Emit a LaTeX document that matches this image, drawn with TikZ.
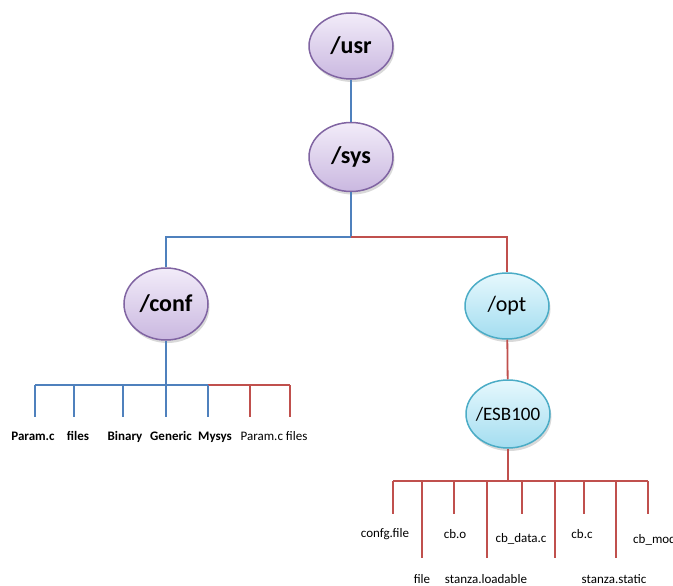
\documentclass[tikz,border=0pt]{standalone}
\usepackage{fontspec}
\setmainfont{Carlito}
\usetikzlibrary{shapes.geometric,shadows}

\definecolor{linkblue}{HTML}{4F81BD}
\definecolor{linkred}{HTML}{C0504D}
\definecolor{purpleedge}{HTML}{8064A2}
\definecolor{purpletop}{HTML}{F2ECF9}
\definecolor{purplebot}{HTML}{CAB8E0}
\definecolor{aquaedge}{HTML}{4BACC6}
\definecolor{aquatop}{HTML}{E6F8FD}
\definecolor{aquabot}{HTML}{A3DDF0}

\begin{document}
\begin{tikzpicture}[x=1pt,y=-1pt,
  dirnode/.style={ellipse, line width=1.5pt, minimum width=84pt, minimum height=66pt,
    inner sep=-6pt, text=black,
    drop shadow={opacity=0.3, shadow xshift=1.5pt, shadow yshift=-3pt}},
  purpledir/.style={dirnode, draw=purpleedge, top color=purpletop, bottom color=purplebot,
    font=\bfseries\fontsize{24}{28}\selectfont},
  aquadir/.style={dirnode, draw=aquaedge, top color=aquatop, bottom color=aquabot},
  bluelink/.style={draw=linkblue, line width=1.8pt},
  redlink/.style={draw=linkred, line width=1.8pt},
  leafbold/.style={anchor=base, inner sep=0pt, font=\bfseries\fontsize{13}{15}\selectfont},
  leaf/.style={anchor=base, inner sep=0pt, font=\fontsize{13}{15}\selectfont},
]
\useasboundingbox (0,0) rectangle (673,586);
\clip (0,0) rectangle (673,586);

% directory nodes
\node[purpledir] (usr) at (351,46) {/usr};
\node[purpledir, minimum height=69pt] (sys) at (351,157) {/sys};
\node[purpledir, minimum height=72pt] (conf) at (166,304) {/conf};
\node[aquadir, font=\fontsize{22}{26}\selectfont] (opt) at (507,306) {/opt};
\node[aquadir, minimum height=68pt, font=\fontsize{19}{23}\selectfont] (esb) at (508,414) {/ESB100};

% upper links
\draw[bluelink] (usr) -- (sys);
\coordinate (split) at (351,237);
\draw[bluelink] (sys) -- (split);
\draw[bluelink] (split) -| (conf);
\draw[redlink] (split) -| (opt);
\draw[redlink] (opt) -- (esb);

% fan-out under /conf
\foreach \x/\n in {35/1,74/2,123/3,166/4,208/5,250/6,290/7}{
  \coordinate (ct\n) at (\x,385);
  \coordinate (ce\n) at (\x,417);
}
\draw[bluelink] (conf) -- (ct4);
\draw[bluelink] (ct1) -- (ct5);
\draw[redlink] (ct5) -- (ct7);
\foreach \n in {1,...,5}{ \draw[bluelink] (ct\n) -- (ce\n); }
\foreach \n in {6,7}{ \draw[redlink] (ct\n) -- (ce\n); }

\node[leafbold] (paramc) at (33,440) {Param.c};
\node[leafbold] (files) at (78,440) {files};
\node[leafbold] (binary) at (125,440) {Binary};
\node[leafbold] (generic) at (171,440) {Generic};
\node[leafbold] (mysys) at (215,440) {Mysys};
\node[leaf] (paramfiles) at (274,440) {Param.c files};

% fan-out under /ESB100
\foreach \x/\n/\y in {393/1/514,422/2/558,454/3/514,487/4/558,522/5/514,555/6/558,584/7/514,616/8/558,648/9/514}{
  \coordinate (et\n) at (\x,481);
  \coordinate (ee\n) at (\x,\y);
}
\coordinate (ejoin) at (508,481);
\draw[redlink] (esb) -- (ejoin);
\draw[redlink] (et1) -- (et9);
\foreach \n in {1,...,9}{ \draw[redlink] (et\n) -- (ee\n); }

\node[leaf] (confg) at (385,537) {confg.file};
\node[leaf] (cbo) at (455,538) {cb.o};
\node[leaf] (cbdata) at (521,542) {cb\_data.c};
\node[leaf] (cbc) at (582,538) {cb.c};
\node[leaf, anchor=base west] (cbmod) at (633,543) {cb\_mod};
\node[leaf] (file) at (422,583) {file};
\node[leaf] (loadable) at (486,583) {stanza.loadable};
\node[leaf] (static) at (614,583) {stanza.static};
\end{tikzpicture}
\end{document}
